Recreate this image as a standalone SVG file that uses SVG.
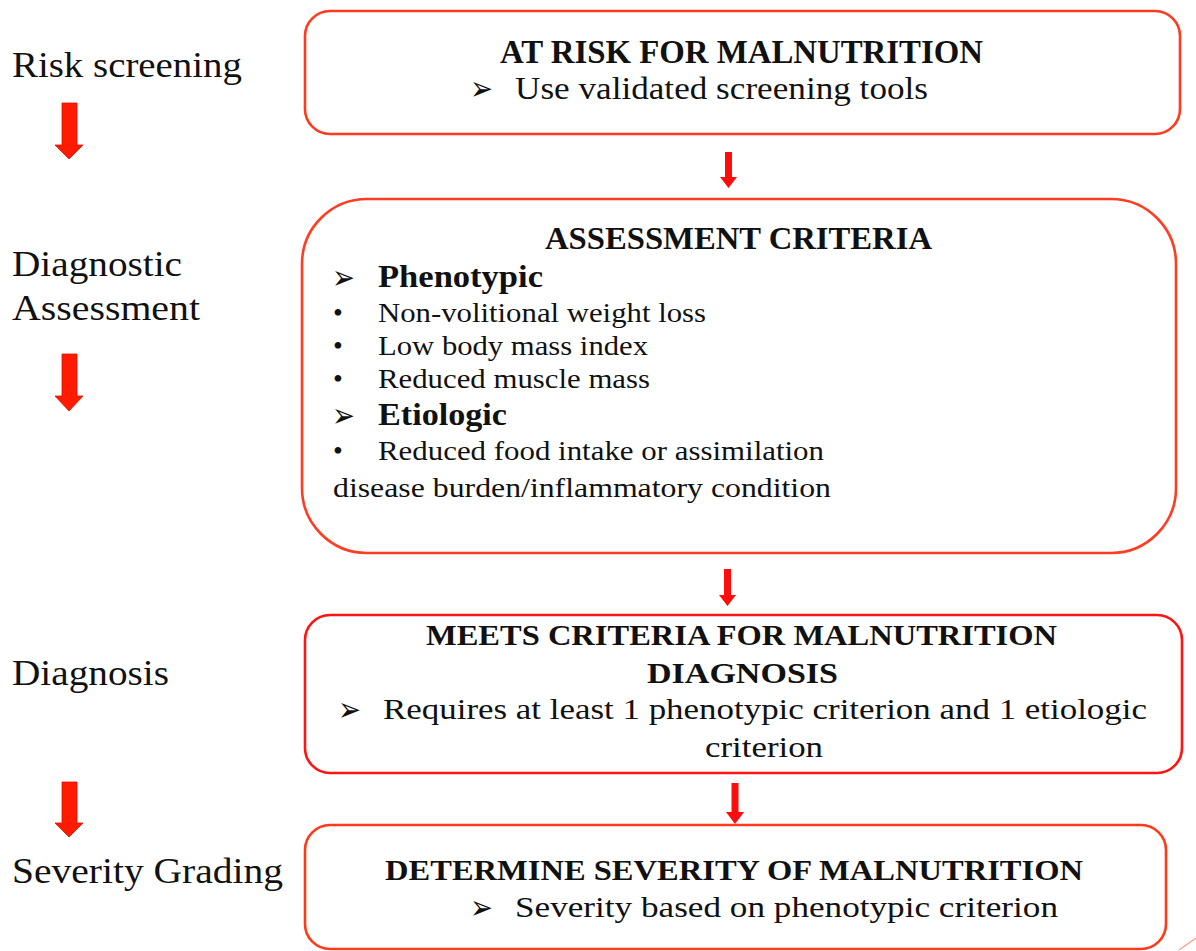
<svg xmlns="http://www.w3.org/2000/svg" width="1196" height="951" viewBox="0 0 1196 951">
<defs>
<style>
.bg{fill:#ffffff}
.box{fill:#ffffff;stroke-width:2.6}
.lbl{font-family:"Liberation Serif","Times New Roman",serif;font-size:36px;fill:#111}
.t{font-family:"Liberation Serif","Times New Roman",serif;fill:#111}
.b{font-weight:bold}
.ar{font-family:"DejaVu Sans",sans-serif;fill:#111;font-size:34px}
.bigarrow{fill:#ff1a00;stroke:#e01000;stroke-width:0.8}
.smallarrow{fill:#ff0d0d}
</style>
</defs>
<rect class="bg" x="0" y="0" width="1196" height="951"/>

<g id="stage-risk-screening">
<text class="lbl" x="12" y="77" textLength="230" lengthAdjust="spacingAndGlyphs">Risk screening</text>
</g>
<g id="stage-diagnostic-assessment">
<text class="lbl" x="12" y="276" textLength="170" lengthAdjust="spacingAndGlyphs">Diagnostic</text>
<text class="lbl" x="12" y="320" textLength="188" lengthAdjust="spacingAndGlyphs">Assessment</text>
</g>
<g id="stage-diagnosis">
<text class="lbl" x="12" y="685" textLength="157" lengthAdjust="spacingAndGlyphs">Diagnosis</text>
</g>
<g id="stage-severity-grading">
<text class="lbl" x="12" y="883" textLength="271" lengthAdjust="spacingAndGlyphs">Severity Grading</text>
</g>

<g id="node-at-risk">
<rect class="box" x="305" y="11" width="875" height="123" rx="25" ry="25" stroke="#ff3b1f"/>
<text class="t b" x="500" y="63" font-size="33" textLength="483" lengthAdjust="spacingAndGlyphs">AT RISK FOR MALNUTRITION</text>
<text class="ar" x="470" y="100" textLength="23" lengthAdjust="spacingAndGlyphs">➢</text>
<text class="t" x="515" y="99" font-size="31" textLength="413" lengthAdjust="spacingAndGlyphs">Use validated screening tools</text>
</g>

<g id="node-assessment-criteria">
<rect class="box" x="302" y="199" width="874" height="354" rx="65" ry="65" stroke="#ff3d22"/>
<text class="t b" x="545" y="249" font-size="31" textLength="387" lengthAdjust="spacingAndGlyphs">ASSESSMENT CRITERIA</text>
<text class="ar" x="332" y="289" textLength="23" lengthAdjust="spacingAndGlyphs">➢</text>
<text class="t b" x="378" y="287" font-size="32" textLength="165" lengthAdjust="spacingAndGlyphs">Phenotypic</text>
<text class="t" x="333" y="322" font-size="28">•</text>
<text class="t" x="378" y="322" font-size="28" textLength="328" lengthAdjust="spacingAndGlyphs">Non-volitional weight loss</text>
<text class="t" x="333" y="355" font-size="28">•</text>
<text class="t" x="378" y="355" font-size="28" textLength="270" lengthAdjust="spacingAndGlyphs">Low body mass index</text>
<text class="t" x="333" y="388" font-size="28">•</text>
<text class="t" x="378" y="388" font-size="28" textLength="272" lengthAdjust="spacingAndGlyphs">Reduced muscle mass</text>
<text class="ar" x="332" y="427" textLength="23" lengthAdjust="spacingAndGlyphs">➢</text>
<text class="t b" x="378" y="425" font-size="32" textLength="129" lengthAdjust="spacingAndGlyphs">Etiologic</text>
<text class="t" x="333" y="460" font-size="28">•</text>
<text class="t" x="378" y="460" font-size="28" textLength="446" lengthAdjust="spacingAndGlyphs">Reduced food intake or assimilation</text>
<text class="t" x="333" y="497" font-size="28" textLength="498" lengthAdjust="spacingAndGlyphs">disease burden/inflammatory condition</text>
</g>

<g id="node-meets-criteria">
<rect class="box" x="305" y="615" width="877" height="158" rx="25" ry="25" stroke="#ff1414"/>
<text class="t b" x="426" y="645" font-size="30" textLength="631" lengthAdjust="spacingAndGlyphs">MEETS CRITERIA FOR MALNUTRITION</text>
<text class="t b" x="647" y="683" font-size="30" textLength="191" lengthAdjust="spacingAndGlyphs">DIAGNOSIS</text>
<text class="ar" x="338" y="721" textLength="23" lengthAdjust="spacingAndGlyphs">➢</text>
<text class="t" x="383" y="719" font-size="30" textLength="764" lengthAdjust="spacingAndGlyphs">Requires at least 1 phenotypic criterion and 1 etiologic</text>
<text class="t" x="705" y="757" font-size="30" textLength="118" lengthAdjust="spacingAndGlyphs">criterion</text>
</g>

<g id="node-determine-severity">
<rect class="box" x="305" y="825" width="861" height="124" rx="25" ry="25" stroke="#ff3a1a"/>
<text class="t b" x="385" y="880" font-size="30" textLength="698" lengthAdjust="spacingAndGlyphs">DETERMINE SEVERITY OF MALNUTRITION</text>
<text class="ar" x="470" y="919" textLength="23" lengthAdjust="spacingAndGlyphs">➢</text>
<text class="t" x="515" y="917" font-size="30" textLength="543" lengthAdjust="spacingAndGlyphs">Severity based on phenotypic criterion</text>
</g>

<g id="connectors">
<polygon class="bigarrow" points="62,103 77,103 77,145 83,145 69,159 55,145 62,145"/>
<polygon class="bigarrow" points="62,354 77,354 77,396 83,396 69,411 55,396 62,396"/>
<polygon class="bigarrow" points="62,782 77,782 77,823 83,823 69,837 55,823 62,823"/>
<polygon class="smallarrow" points="725,152 732,152 732,177 737,177 728.5,188 720,177 725,177"/>
<polygon class="smallarrow" points="724,569 731,569 731,595 736,595 727.5,606 719,595 724,595"/>
<polygon class="smallarrow" points="731.5,783 738.5,783 738.5,812 744,812 735,824 726,812 731.5,812"/>
<line x1="1179" y1="950" x2="1196" y2="938" stroke="#ff9a8a" stroke-width="1.2"/>
</g>
</svg>
